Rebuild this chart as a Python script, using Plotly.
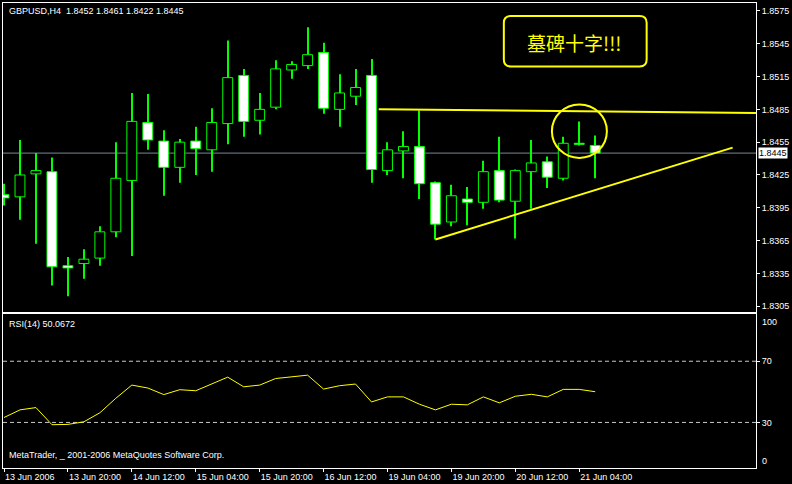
import plotly.graph_objects as go

# ---------------- GBPUSD H4 bars: 13 Jun 2006 04:00 .. 21 Jun 2006 08:00 ----------------
opens = [1.8407, 1.8405, 1.8426, 1.8428, 1.8342, 1.8344, 1.8349, 1.8373, 1.8420, 1.8473,
         1.8456, 1.8432, 1.8456, 1.8448, 1.8472, 1.8516, 1.8475, 1.8487, 1.8521, 1.8525,
         1.8537, 1.8485, 1.8497, 1.8516, 1.8429, 1.8447, 1.8451, 1.8418, 1.8382, 1.8403,
         1.8400, 1.8429, 1.8401, 1.8428, 1.8437, 1.8422, 1.8454, 1.8452]
highs = [1.8417, 1.8457, 1.8445, 1.8441, 1.8350, 1.8357, 1.8378, 1.8455, 1.8500, 1.8499,
         1.8466, 1.8458, 1.8469, 1.8486, 1.8548, 1.8522, 1.8500, 1.8530, 1.8529, 1.8560,
         1.8546, 1.8517, 1.8522, 1.8531, 1.8455, 1.8465, 1.8484, 1.8419, 1.8416, 1.8414,
         1.8438, 1.8460, 1.8430, 1.8457, 1.8442, 1.8460, 1.8474, 1.8461]
lows = [1.8397, 1.8384, 1.8362, 1.8324, 1.8314, 1.8330, 1.8342, 1.8368, 1.8351, 1.8448,
        1.8406, 1.8418, 1.8425, 1.8428, 1.8453, 1.8460, 1.8462, 1.8485, 1.8513, 1.8522,
        1.8481, 1.8469, 1.8489, 1.8418, 1.8425, 1.8422, 1.8403, 1.8366, 1.8378, 1.8379,
        1.8394, 1.8400, 1.8367, 1.8394, 1.8413, 1.8420, 1.8452, 1.8422]
closes = [1.8404, 1.8425, 1.8429, 1.8341, 1.8340, 1.8348, 1.8373, 1.8422, 1.8474, 1.8457,
          1.8432, 1.8455, 1.8449, 1.8473, 1.8514, 1.8474, 1.8485, 1.8522, 1.8526, 1.8535,
          1.8486, 1.8500, 1.8505, 1.8430, 1.8448, 1.8451, 1.8417, 1.8380, 1.8406, 1.8400,
          1.8428, 1.8402, 1.8429, 1.8436, 1.8423, 1.8454, 1.8453, 1.8445]

# RSI(14) per bar
rsi14 = [33.2, 38.2, 39.7, 28.5, 28.7, 30.4, 36.3, 45.8, 54.4, 52.5,
         48.2, 51.4, 50.7, 55.1, 59.6, 53.3, 54.4, 58.7, 59.6, 60.9,
         51.8, 54.0, 55.1, 43.4, 46.7, 46.7, 41.9, 38.2, 41.9, 41.5,
         46.7, 42.8, 47.1, 48.4, 46.7, 51.6, 51.6, 50.0672]

tick_bars = [0, 4, 8, 12, 16, 20, 24, 28, 32, 36]
tick_labels = ["13 Jun 2006", "13 Jun 20:00", "14 Jun 12:00", "15 Jun 04:00", "15 Jun 20:00",
               "16 Jun 12:00", "19 Jun 04:00", "19 Jun 20:00", "20 Jun 12:00", "21 Jun 04:00"]
price_ticks = [1.8575, 1.8545, 1.8515, 1.8485, 1.8455, 1.8425, 1.8395, 1.8365, 1.8335, 1.8305]
rsi_levels = [70, 30]
rsi_ticks = [70, 30]

# chart objects: horizontal trend line, rising support line, highlight circle
resist_bars = [23.45, 47.06]
resist_prices = [1.84852, 1.84816]
support_bars = [27, 45.6]
support_prices = [1.8366, 1.8450]
circle_bars = [34.29, 37.73]
circle_prices = [1.84406, 1.84895]

symbol = "GBPUSD,H4"
note_text = "墓碑十字!!!"

# ---------------- layout geometry (pixels) ----------------
W, H = 792, 484
PL, PR, PT, PB = 2, 756, 2, 471


def px(x):
    return (x - PL) / (PR - PL)


def py(y):
    return (PB - y) / (PB - PT)


LIME = "#00ff00"
YELLOW = "#ffff00"
FONT = "Liberation Sans"

n = len(closes)
idx = list(range(n))
body_base = [min(o, c) for o, c in zip(opens, closes)]
body_h = [abs(c - o) for o, c in zip(opens, closes)]
body_fill = ["black" if c > o else "white" for o, c in zip(opens, closes)]

fig = go.Figure()

# wicks (1 px columns)
fig.add_trace(go.Bar(
    x=idx, y=[h - l for h, l in zip(highs, lows)], base=lows, width=1 / 16,
    marker=dict(color=LIME, line=dict(width=0)), hoverinfo="skip",
    xaxis="x", yaxis="y"))
# candle bodies
fig.add_trace(go.Bar(
    x=idx, y=body_h, base=body_base, width=0.62,
    marker=dict(color=body_fill, line=dict(color=LIME, width=1)),
    hoverinfo="skip", xaxis="x", yaxis="y"))
# RSI
fig.add_trace(go.Scatter(
    x=idx, y=rsi14, mode="lines", line=dict(color=YELLOW, width=1),
    hoverinfo="skip", xaxis="x2", yaxis="y2"))
# trend lines
fig.add_trace(go.Scatter(
    x=resist_bars, y=resist_prices, mode="lines", line=dict(color=YELLOW, width=2),
    hoverinfo="skip", xaxis="x", yaxis="y"))
fig.add_trace(go.Scatter(
    x=support_bars, y=support_prices, mode="lines", line=dict(color=YELLOW, width=2),
    hoverinfo="skip", xaxis="x", yaxis="y"))

x_range = [(PL - 3) / 16, (PR - 3) / 16]
y_range = [1.8575 - (314 - 10) / 11030, 1.8575 + (10 - 2) / 11030]
rsi_range = [(471.3 - 471) / 1.5425, (471.3 - 316) / 1.5425]

axis_font = dict(family=FONT, size=9, color="white")

shapes = [
    # bid line
    dict(type="line", xref="x domain", yref="y", x0=0, x1=1, y0=closes[-1], y1=closes[-1],
         line=dict(color="#778899", width=1), layer="below"),
    # highlight circle
    dict(type="circle", xref="x", yref="y", x0=circle_bars[0], x1=circle_bars[1],
         y0=circle_prices[0], y1=circle_prices[1], line=dict(color=YELLOW, width=2)),
]
for lv in rsi_levels:
    shapes.append(dict(type="line", xref="x2 domain", yref="y2", x0=0, x1=1, y0=lv, y1=lv,
                       line=dict(color="#c8c8c8", width=1, dash="4px,3px"), layer="below"))

# rounded note box
bx0, bx1, by0, by1, r = 503.5, 646.5, 15, 66, 7
path = (f"M {px(bx0 + r)},{py(by0)} L {px(bx1 - r)},{py(by0)} "
        f"Q {px(bx1)},{py(by0)} {px(bx1)},{py(by0 + r)} L {px(bx1)},{py(by1 - r)} "
        f"Q {px(bx1)},{py(by1)} {px(bx1 - r)},{py(by1)} L {px(bx0 + r)},{py(by1)} "
        f"Q {px(bx0)},{py(by1)} {px(bx0)},{py(by1 - r)} L {px(bx0)},{py(by0 + r)} "
        f"Q {px(bx0)},{py(by0)} {px(bx0 + r)},{py(by0)} Z")
shapes.append(dict(type="path", xref="paper", yref="paper", path=path,
                   line=dict(color=YELLOW, width=2)))

title_text = (f"{symbol}\u00a0 {opens[-1]:.4f} {highs[-1]:.4f} "
              f"{lows[-1]:.4f} {closes[-1]:.4f}")

annotations = [
    dict(xref="paper", yref="paper", x=px(6), y=py(10.5), xanchor="left", yanchor="middle",
         text=title_text, showarrow=False, font=axis_font),
    dict(xref="paper", yref="paper", x=px(6), y=py(326), xanchor="left", yanchor="middle",
         text=f"RSI(14) {rsi14[-1]:.4f}", showarrow=False, font=axis_font),
    dict(xref="paper", yref="paper", x=px(6), y=py(458), xanchor="left", yanchor="middle",
         text="MetaTrader, _ 2001-2006 MetaQuotes Software Corp.", showarrow=False,
         font=axis_font),
    dict(xref="paper", yref="paper", x=px(760), y=py(324), xanchor="left", yanchor="middle",
         text="100", showarrow=False, font=axis_font),
    dict(xref="paper", yref="paper", x=px(760), y=py(464), xanchor="left", yanchor="middle",
         text="0", showarrow=False, font=axis_font),
    dict(xref="paper", yref="y", x=px(758), y=closes[-1], xanchor="left", yanchor="middle",
         text=f"{closes[-1]:.4f}", showarrow=False, bgcolor="white", borderpad=0,
         font=dict(family=FONT, size=9, color="black")),
    dict(xref="paper", yref="paper", x=px(574), y=py(42), xanchor="center", yanchor="middle",
         text=note_text, showarrow=False,
         font=dict(family="Noto Sans CJK SC", size=19, color=YELLOW)),
]

fig.update_layout(
    width=W, height=H,
    margin=dict(l=PL, r=W - PR, t=PT, b=H - PB, pad=0),
    paper_bgcolor="black", plot_bgcolor="black",
    showlegend=False, barmode="overlay",
    xaxis=dict(domain=[0, 1], anchor="y", range=x_range, matches="x2",
               showticklabels=False, ticks="", showgrid=False, zeroline=False,
               showline=True, mirror=True, linecolor="white", linewidth=1),
    yaxis=dict(domain=[py(314), 1], anchor="x", side="right", range=y_range,
               tickvals=price_ticks, ticktext=[f"{v:.4f}" for v in price_ticks],
               ticks="outside", ticklen=3, tickcolor="white", tickfont=axis_font,
               showgrid=False, zeroline=False,
               showline=True, mirror=True, linecolor="white", linewidth=1),
    xaxis2=dict(domain=[0, 1], anchor="y2", range=x_range,
                tickvals=tick_bars, ticktext=tick_labels, ticks="outside", ticklen=3,
                tickcolor="white", tickfont=axis_font, ticklabelposition="outside right",
                showgrid=False, zeroline=False,
                showline=True, mirror=True, linecolor="white", linewidth=1),
    yaxis2=dict(domain=[0, py(316)], anchor="x2", side="right", range=rsi_range,
                tickvals=rsi_ticks, ticktext=[str(v) for v in rsi_ticks],
                ticks="outside", ticklen=3, tickcolor="white", tickfont=axis_font,
                showgrid=False, zeroline=False,
                showline=True, mirror=True, linecolor="white", linewidth=1),
    shapes=shapes,
    annotations=annotations,
)

fig.write_html("out.html")
